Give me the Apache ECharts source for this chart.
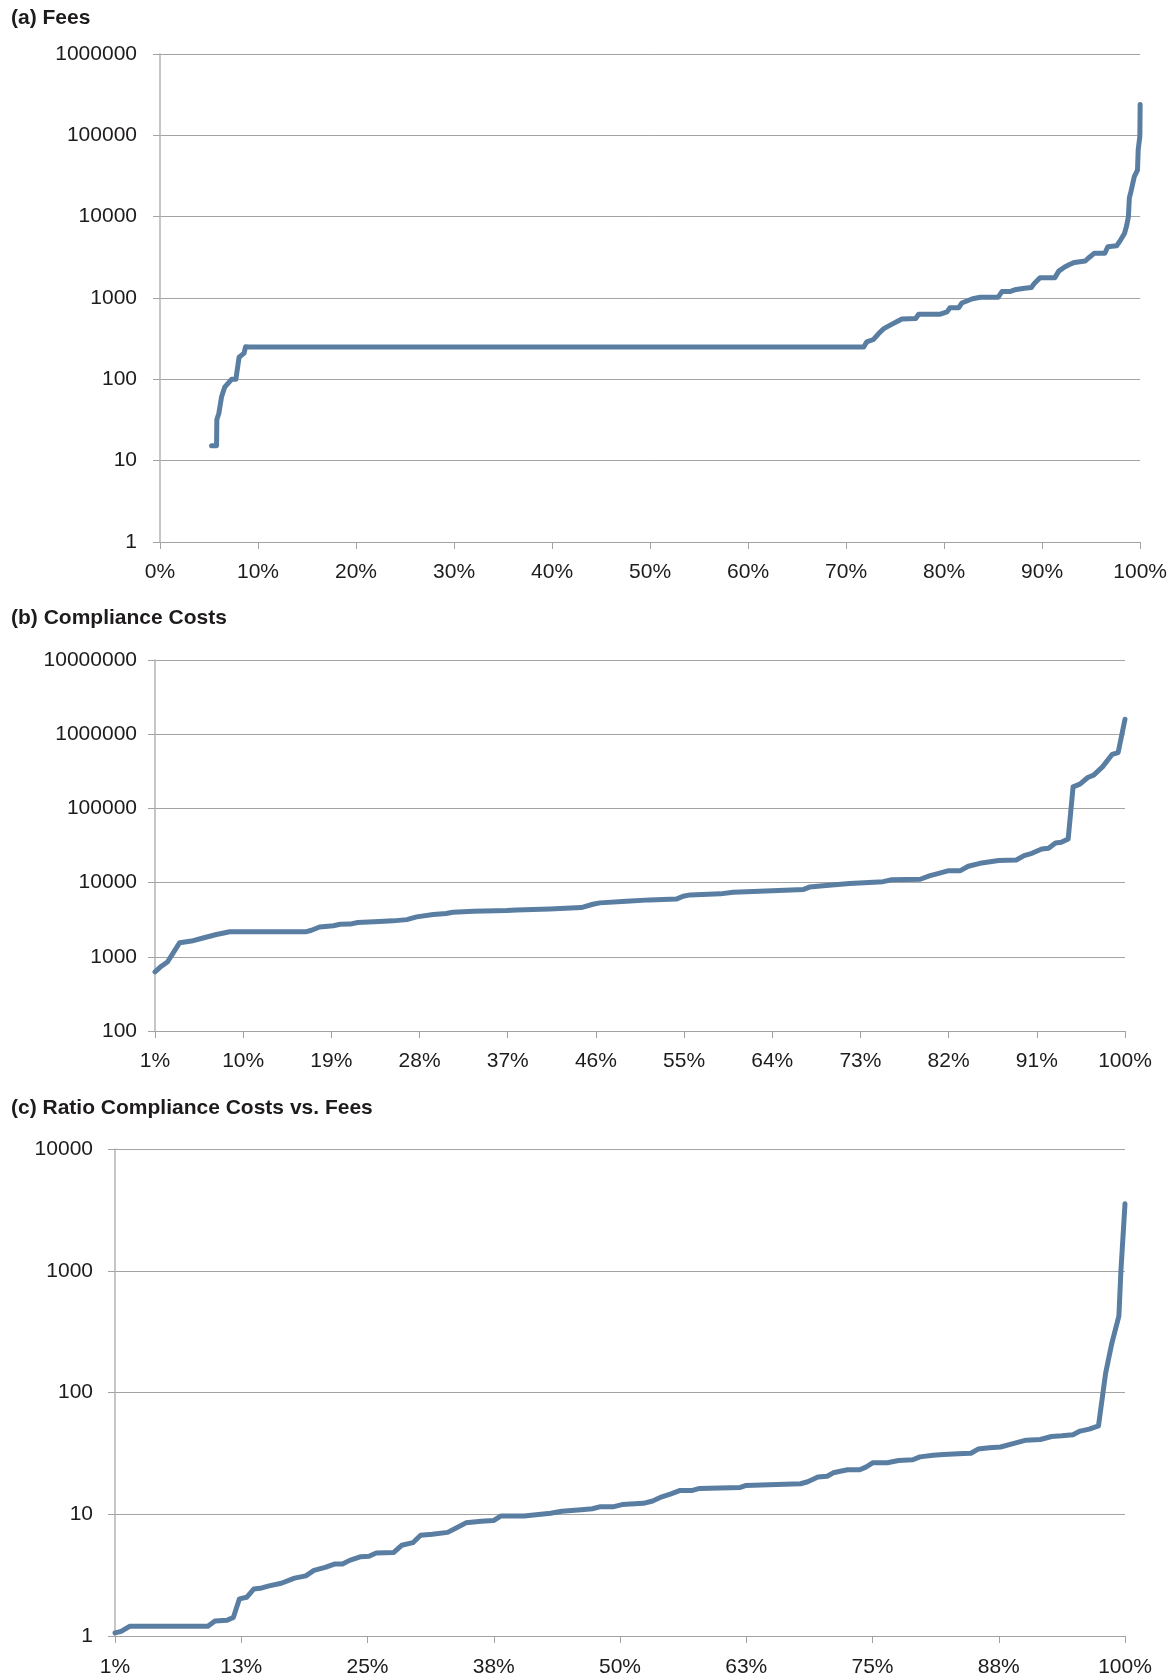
<!DOCTYPE html>
<html>
<head>
<meta charset="utf-8">
<script src="https://cdn.jsdelivr.net/npm/echarts@6/dist/echarts.min.js"></script>
<style>
  html, body { margin: 0; padding: 0; background: #fff; }
  #chart { width: 1170px; height: 1678px; }
</style>
</head>
<body>
<div id="chart"></div>
<script>
/* (a) Fees: position on the x axis in % and fee */
var feePct = [5.26, 5.77, 5.8, 6.0, 6.28, 6.6, 7.3, 7.74, 8.07, 8.58, 8.73, 9.09,
  71.8, 72.1, 72.8, 73.3, 73.8, 74.5, 75.2, 75.7, 77.1, 77.4, 79.6, 80.3, 80.6,
  81.5, 81.8, 82.9, 83.7, 85.5, 85.9, 86.7, 87.2, 88.2, 88.9, 89.2, 89.8, 91.3,
  91.7, 92.3, 92.8, 93.3, 94.4, 94.8, 95.3, 96.4, 96.7, 97.6, 98.0, 98.4, 98.6,
  98.8, 98.9, 99.06, 99.4, 99.73, 99.8, 99.97, 100];
var feeVal = [15.3, 15.3, 32, 38, 61, 80, 100, 100, 187, 210, 252, 250,
  250, 288, 309, 363, 417, 464, 513, 551, 560, 632, 632, 674, 761,
  761, 868, 980, 1020, 1020, 1200, 1200, 1260, 1320, 1350, 1510, 1780, 1780,
  2140, 2410, 2580, 2740, 2850, 3150, 3540, 3540, 4270, 4380, 5160, 6200, 7530,
  10000, 17000, 20300, 31000, 37300, 66500, 97000, 240000];

/* (b) Compliance costs: rank position 0..99 (label shows rank + 1 %) */
var costRank = [0, 0.65, 1.27, 2.52, 3.72, 4.9, 6.27, 7.63, 15.46, 15.97, 16.8,
  18.2, 18.9, 19.9, 20.7, 22.9, 24.3, 25.7, 26.7, 28.4, 29.7, 30.4, 32.5, 35.9,
  36.9, 40.3, 43.5, 44.7, 45.4, 48.1, 50.5, 53.2, 53.9, 54.6, 57.7, 59.0, 61.7,
  66.2, 66.8, 68.2, 70.9, 74.3, 75.2, 78.1, 79.1, 79.8, 81.0, 82.2, 83.0, 84.2,
  86.1, 87.9, 88.7, 89.5, 90.5, 91.2, 91.9, 92.5, 93.2, 93.7, 94.4, 95.2, 95.8,
  96.7, 97.7, 98.3, 99.0];
var costVal = [625, 747, 851, 1550, 1630, 1790, 2000, 2180, 2180, 2280, 2520,
  2620, 2740, 2760, 2900, 3000, 3050, 3170, 3450, 3710, 3830, 3990, 4110, 4200,
  4280, 4420, 4610, 5110, 5330, 5620, 5850, 5990, 6560, 6830, 7050, 7420, 7650,
  8100, 8700, 9100, 9700, 10300, 10900, 11100, 12400, 13100, 14500, 14500, 16600, 18200,
  19800, 20200, 23100, 24800, 28400, 29000, 34100, 34900, 38700, 195000, 212000, 261000, 281000,
  363000, 536000, 565000, 1590000];

/* (c) Ratio compliance costs vs. fees: rank position 0..99 */
var ratioRank = [0, 0.6, 1.43, 9.1, 9.8, 11.0, 11.6, 12.2, 12.9, 13.6, 14.4, 15.1,
  16.3, 17.6, 18.7, 19.5, 20.6, 21.5, 22.3, 23.0, 24.1, 24.9, 25.6, 27.3, 28.1,
  29.2, 29.95, 31.1, 32.6, 33.3, 34.4, 35.9, 37.1, 37.8, 40.1, 42.7, 43.8, 45.7,
  46.8, 47.5, 48.8, 49.7, 51.8, 52.7, 53.6, 54.5, 55.4, 56.6, 57.3, 61.3, 61.8,
  67.2, 67.9, 68.9, 69.8, 70.4, 71.8, 73.0, 73.6, 74.3, 75.7, 76.8, 78.2, 78.9,
  80.2, 81.2, 83.2, 83.9, 84.6, 85.7, 86.8, 88.2, 89.3, 90.7, 91.8, 92.8, 93.9,
  94.6, 95.5, 96.4, 97.1, 97.7, 98.4, 98.6, 99.0];
var ratioVal = [1.06, 1.09, 1.2, 1.2, 1.33, 1.35, 1.42, 2.02, 2.08, 2.43, 2.48, 2.58,
  2.71, 2.99, 3.12, 3.46, 3.66, 3.9, 3.9, 4.18, 4.48, 4.52, 4.8, 4.84, 5.56,
  5.84, 6.72, 6.86, 7.1, 7.6, 8.5, 8.76, 8.87, 9.66, 9.66, 10.2, 10.6, 10.9,
  11.1, 11.5, 11.5, 12.0, 12.3, 12.85, 13.9, 14.7, 15.7, 15.7, 16.3, 16.6, 17.2,
  17.8, 18.5, 20.2, 20.5, 21.9, 23.2, 23.2, 24.4, 26.5, 26.5, 27.6, 28.0, 29.6,
  30.5, 31.0, 31.5, 31.7, 34.3, 35.2, 35.7, 38.4, 40.6, 41.1, 43.5, 44.1, 45.0,
  48.2, 50.0, 53.2, 144, 252, 424, 1000, 3550];
var ratioLabels = ["1%", "13%", "25%", "38%", "50%", "63%", "75%", "88%", "100%"];

var titles = ["(a) Fees", "(b) Compliance Costs", "(c) Ratio Compliance Costs vs. Fees"];

function pairs(xs, ys) {
  var out = [];
  for (var i = 0; i < xs.length; i++) out.push([xs[i], ys[i]]);
  return out;
}

var font = "'Liberation Sans', Arial, Helvetica, sans-serif";
var lineColor = "#5a7ea2";
var gridColor = "#a3a3a3";
var textColor = "#1e1b1c";

function yAxisFor(idx, maxV, minV, margin) {
  return {
    type: "log",
    logBase: 10,
    gridIndex: idx,
    min: minV,
    max: maxV,
    splitNumber: Math.round(Math.log10(maxV / minV)),
    axisLine: { show: true, lineStyle: { color: "#b3b3b3", width: 1.5 } },
    axisTick: { show: true, length: 7, lineStyle: { color: gridColor } },
    splitLine: { show: true, lineStyle: { color: gridColor, width: 1 } },
    minorTick: { show: false },
    axisLabel: {
      fontFamily: font, fontSize: 21, color: textColor, margin: margin,
      formatter: function (v) { return String(Math.round(v)); }
    }
  };
}

var axisBase = {
  axisLine: { show: true, lineStyle: { color: gridColor, width: 1 } },
  axisTick: { show: true, length: 7, lineStyle: { color: gridColor } },
  splitLine: { show: false }
};

var option = {
  animation: false,
  backgroundColor: "#fff",
  title: titles.map(function (t, i) {
    return {
      text: t, left: 11, top: [8, 608, 1098][i], padding: 0,
      textStyle: { fontFamily: font, fontSize: 21, fontWeight: "bold", color: textColor }
    };
  }),
  grid: [
    { left: 160, right: 27, top: 54, height: 488 },
    { left: 155, right: 45, top: 660, height: 371 },
    { left: 115, right: 45, top: 1149, height: 487 }
  ],
  xAxis: [
    Object.assign({}, axisBase, {
      type: "value", gridIndex: 0, min: 0, max: 100, interval: 10,
      axisLabel: { fontFamily: font, fontSize: 21, color: textColor, margin: 20, formatter: "{value}%" }
    }),
    Object.assign({}, axisBase, {
      type: "value", gridIndex: 1, min: 0, max: 99, interval: 9,
      axisLabel: {
        fontFamily: font, fontSize: 21, color: textColor, margin: 20,
        formatter: function (v) { return Math.round(v + 1) + "%"; }
      }
    }),
    Object.assign({}, axisBase, {
      type: "value", gridIndex: 2, min: 0, max: 99, interval: 12.375,
      axisLabel: {
        fontFamily: font, fontSize: 21, color: textColor, margin: 21,
        formatter: function (v) { return ratioLabels[Math.round(v / 12.375)]; }
      }
    })
  ],
  yAxis: [
    yAxisFor(0, 1000000, 1, 23),
    yAxisFor(1, 10000000, 100, 18),
    yAxisFor(2, 10000, 1, 22)
  ],
  series: [
    [feePct, feeVal],
    [costRank, costVal],
    [ratioRank, ratioVal]
  ].map(function (d, i) {
    return {
      type: "line",
      xAxisIndex: i,
      yAxisIndex: i,
      data: pairs(d[0], d[1]),
      showSymbol: false,
      lineStyle: { color: lineColor, width: 5, cap: "round", join: "round" }
    };
  })
};

var myChart = echarts.init(document.getElementById("chart"), null, { renderer: "canvas" });
myChart.setOption(option);
window.addEventListener("resize", myChart.resize);
</script>
</body>
</html>
